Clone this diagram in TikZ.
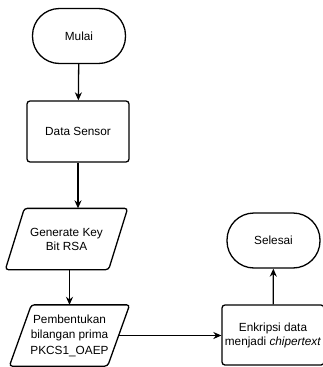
\documentclass[tikz,border=0pt]{standalone}
\usepackage{fontspec}
\setmainfont{Liberation Sans}
\usetikzlibrary{arrows.meta}
\begin{document}
\begin{tikzpicture}[x=1pt,y=-1pt,
  base/.style={line width=1.3pt, font=\fontsize{11.8}{14}\selectfont, align=center, inner sep=0pt},
  term/.style={base, draw, rounded corners=27pt, minimum width=93pt, minimum height=55pt},
  proc/.style={base, draw, rounded corners=3pt, minimum width=102pt, minimum height=61pt},
  io/.style={base, minimum width=#1, minimum height=60pt},
  outline/.style={line width=1.3pt, rounded corners=3pt},
  arr/.style={line width=1.3pt, -{Stealth[length=8pt,width=7pt]}}]
\useasboundingbox (0,0) rectangle (322,367);
\node[term] (mulai) at (79,36) {Mulai};
\node[proc] (ds) at (78,131.5) {Data Sensor};
\node[io=102pt] (gk) at (66.5,239) {Generate Key\\Bit RSA};
\draw[outline] ([xshift=9.5pt]gk.north west) -- ([xshift=9.5pt]gk.north east) -- ([xshift=-9.5pt]gk.south east) -- ([xshift=-9.5pt]gk.south west) -- cycle;
\node[io=97pt, font=\fontsize{11.8}{15.5}\selectfont] (pk) at (69.5,335.5) {Pembentukan\\bilangan prima\\PKCS1\_OAEP};
\draw[outline] ([xshift=11pt]pk.north west) -- ([xshift=11pt]pk.north east) -- ([xshift=-11pt]pk.south east) -- ([xshift=-11pt]pk.south west) -- cycle;
\node[proc, minimum height=60pt] (enk) at (273,335) {Enkripsi data\\menjadi \textit{chipertext}};
\node[term] (sel) at (273.5,240.5) {Selesai};
\draw[arr] (mulai) -- (ds);
\draw[arr] (ds.south) -- (ds.south |- gk.north);
\draw[arr] (pk.north |- gk.south) -- (pk.north);
\draw[arr] (pk.east) -- (pk.east -| enk.west);
\draw[arr] (enk) -- (sel);
\end{tikzpicture}
\end{document}
